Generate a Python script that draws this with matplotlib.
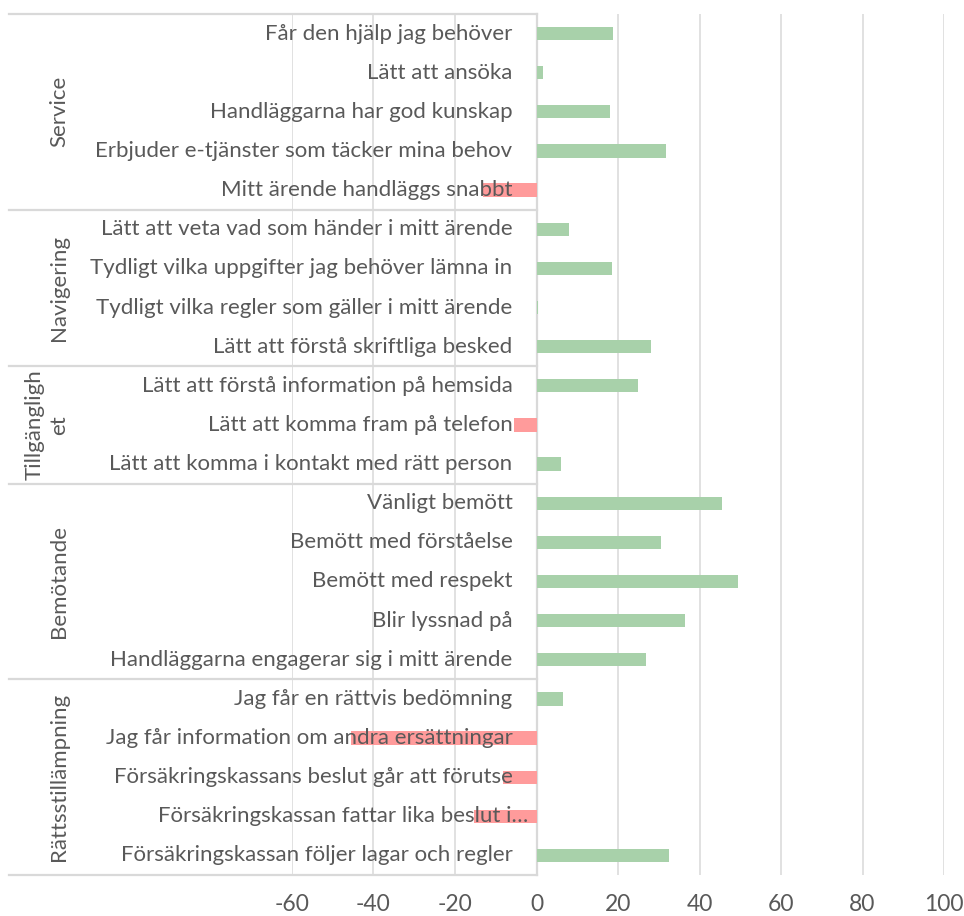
import matplotlib
matplotlib.use("Agg")
import matplotlib.pyplot as plt
from matplotlib.transforms import blended_transform_factory
import numpy as np

plt.rcParams["font.family"]=["Lato","DejaVu Sans"]
plt.rcParams["axes.unicode_minus"]=False

LABELS=["Får den hjälp jag behöver","Lätt att ansöka","Handläggarna har god kunskap",
 "Erbjuder e-tjänster som täcker mina behov","Mitt ärende handläggs snabbt",
 "Lätt att veta vad som händer i mitt ärende","Tydligt vilka uppgifter jag behöver lämna in",
 "Tydligt vilka regler som gäller i mitt ärende","Lätt att förstå skriftliga besked",
 "Lätt att förstå information på hemsida","Lätt att komma fram på telefon",
 "Lätt att komma i kontakt med rätt person",
 "Vänligt bemött","Bemött med förståelse","Bemött med respekt","Blir lyssnad på",
 "Handläggarna engagerar sig i mitt ärende",
 "Jag får en rättvis bedömning","Jag får information om andra ersättningar",
 "Försäkringskassans beslut går att förutse","Försäkringskassan fattar lika beslut i…",
 "Försäkringskassan följer lagar och regler"]
VALUES=[18.8,1.5,18.0,31.7,-13.1,
        7.9,18.5,0.3,28.1,
        24.8,-5.6,6.1,
        45.5,30.5,49.4,36.4,26.9,
        6.4,-45.6,-8.3,-15.4,32.5]
GROUPS=["Service","Navigering","Tillgängligh\net","Bemötande","Rättsstillämpning"]
GROUP_SIZES=[5,4,3,5,5]
XTICKS=[-60,-40,-20,0,20,40,60,80,100]
TRUNCATED="Försäkringskassan fattar lika beslut i…"

GREEN="#A8D1AA"; RED="#FF9B9B"; TXT="#595959"; GRID="#D9D9D9"
FS=16

fig=plt.figure(figsize=(9.64,9.16),dpi=100)
ax=fig.add_axes([292/964,41/916,652/964,861/916])
y=np.arange(len(LABELS))
ax.barh(y,VALUES,height=0.34,color=[GREEN if v>=0 else RED for v in VALUES],zorder=2)
ax.set_xlim(-60,100); ax.set_ylim(len(LABELS)-0.5,-0.5)
ax.set_xticks(XTICKS); ax.set_yticks([])
ax.grid(axis="x",color=GRID,lw=1.1,zorder=0); ax.set_axisbelow(True)
for s in ax.spines.values(): s.set_visible(False)
ax.tick_params(axis="x",length=0,pad=14,labelsize=16.5,labelcolor=TXT)

# category labels sit just left of the zero line, on top of the bars
for i,lb in enumerate(LABELS):
    off=-8 if lb==TRUNCATED else -24
    ax.annotate(lb,xy=(0,i),xytext=(off,0),textcoords="offset pixels",
                ha="right",va="center",fontsize=FS,color=TXT,zorder=5)

# group frame: horizontal separators + vertical axis line
tr=blended_transform_factory(ax.transAxes,ax.transData)
bounds=np.concatenate([[0],np.cumsum(GROUP_SIZES)])-0.5
x0=(9-292)/652; xz=60/160
for b in bounds:
    ax.plot([x0,xz],[b,b],color=GRID,lw=1.6,transform=tr,clip_on=False,zorder=1)
ax.plot([xz,xz],[-0.5,len(LABELS)-0.5],color=GRID,lw=1.6,transform=tr,clip_on=False,zorder=1)

tf=blended_transform_factory(fig.transFigure,ax.transData)
for g,a,b in zip(GROUPS,bounds[:-1],bounds[1:]):
    ax.text(69/964,(a+b)/2,g,rotation=90,ha="right",va="center",multialignment="center",
            fontsize=FS,color=TXT,transform=tf,linespacing=1.25)

fig.savefig("out.png",dpi=100,facecolor="white")
